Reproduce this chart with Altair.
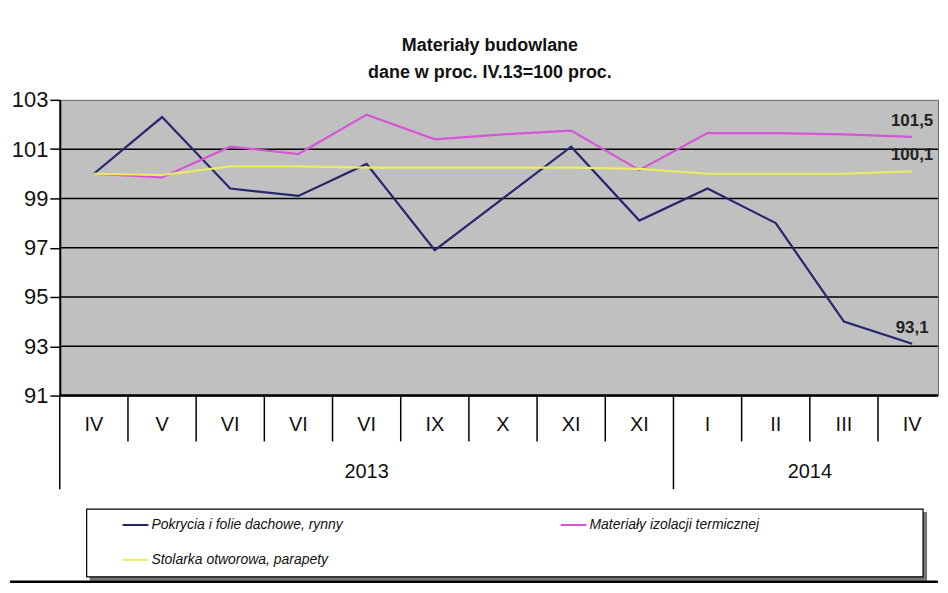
import altair as alt
import pandas as pd

months = ["IV", "V", "VI", "VI", "VI", "IX", "X", "XI", "XI", "I", "II", "III", "IV"]
years = ["2013", "2014"]
year_first = [0, 9]
year_last = [8, 12]

series_names = [
    "Pokrycia i folie dachowe, rynny",
    "Materiały izolacji termicznej",
    "Stolarka otworowa, parapety",
]
series_colors = ["#26266e", "#d655d6", "#ecec62"]
pokrycia = [100.0, 102.3, 99.4, 99.1, 100.4, 96.9, 99.0, 101.1, 98.1, 99.4, 98.0, 94.0, 93.1]
izolacja = [100.0, 99.85, 101.1, 100.8, 102.4, 101.4, 101.6, 101.75, 100.15, 101.65, 101.65, 101.6, 101.5]
stolarka = [100.0, 99.95, 100.3, 100.3, 100.25, 100.25, 100.25, 100.25, 100.2, 100.0, 100.0, 100.0, 100.1]
y_ticks = [91, 93, 95, 97, 99, 101, 103]
grid_values = [93, 95, 97, 99, 101]

W, H = 882, 297
X_DOMAIN = [-0.5, 12.38]
Y_DOMAIN = [91, 103]
FONT = "Liberation Sans, Arial, sans-serif"

# legend order (column-major fill in the legend grid): col 1 = first two, col 2 = third
legend_order = [series_names[0], series_names[2], series_names[1]]
legend_colors = [series_colors[0], series_colors[2], series_colors[1]]

rows = []
for name, vals in zip(series_names, [pokrycia, izolacja, stolarka]):
    for i, v in enumerate(vals):
        rows.append({"series": name, "i": i, "v": v})
df = pd.DataFrame(rows)

last = df[df["i"] == len(months) - 1].copy()
last["label"] = last["v"].map(lambda v: f"{v:.1f}".replace(".", ","))

xs = alt.Scale(domain=X_DOMAIN, nice=False, zero=False)
ys = alt.Scale(domain=Y_DOMAIN, nice=False, zero=False)

y_axis = alt.Axis(
    values=y_ticks, title=None, grid=False, labelFontSize=22, labelFont=FONT,
    labelColor="#111", tickColor="black", tickSize=10, tickWidth=1.5, domainColor="black",
    domainWidth=2, labelPadding=2, minExtent=50, maxExtent=50)

grid = alt.Chart(pd.DataFrame({"g": grid_values})).mark_rule(color="black", strokeWidth=1.5).encode(
    y=alt.Y("g:Q", scale=ys, axis=y_axis)
)

lines = alt.Chart(df).mark_line(strokeWidth=2.2).encode(
    x=alt.X("i:Q", scale=xs, axis=None),
    y=alt.Y("v:Q", scale=ys, axis=y_axis),
    color=alt.Color("series:N", scale=alt.Scale(domain=legend_order, range=legend_colors),
                    legend=alt.Legend(orient="none", legendX=62, legendY=413, columns=2,
                                      columnPadding=214, rowPadding=14, symbolType="stroke",
                                      symbolSize=676, symbolStrokeWidth=2, labelFont=FONT,
                                      labelFontSize=14, labelFontStyle="italic", labelColor="#111",
                                      labelOffset=2, labelLimit=0, title=None, padding=0)),
    detail="series:N",
    order="i:Q",
)

end_labels = alt.Chart(last).mark_text(dy=-16, fontSize=17, fontWeight="bold", font=FONT,
                                       color="#222").encode(
    x=alt.X("i:Q", scale=xs), y=alt.Y("v:Q", scale=ys), text="label:N"
)

# x axis: baseline, month separators, labels, year separators
base_line = alt.Chart(pd.DataFrame({"a": [0]})).mark_rule(color="black", strokeWidth=2.5).encode(
    x=alt.value(0), x2=alt.value(W), y=alt.value(H)
)
year_bounds = [f - 0.5 for f in year_first]
month_bounds = [i + 0.5 for i in range(len(months) - 1) if (i + 0.5) not in year_bounds and i + 0.5 < X_DOMAIN[1]]

month_sep = alt.Chart(pd.DataFrame({"b": month_bounds})).mark_rule(color="black", strokeWidth=1.5).encode(
    x=alt.X("b:Q", scale=xs), y=alt.value(H), y2=alt.value(H + 46)
)
year_sep = alt.Chart(pd.DataFrame({"b": year_bounds})).mark_rule(color="black", strokeWidth=1.5).encode(
    x=alt.X("b:Q", scale=xs), y=alt.value(H), y2=alt.value(H + 94)
)
month_text = alt.Chart(pd.DataFrame({"i": list(range(len(months))), "m": months})).mark_text(
    fontSize=20, font=FONT, color="#111", baseline="middle").encode(
    x=alt.X("i:Q", scale=xs), y=alt.value(H + 30), text="m:N"
)
year_text = alt.Chart(pd.DataFrame({"c": [(a + b) / 2 for a, b in zip(year_first, year_last)], "y": years})).mark_text(
    fontSize=20, font=FONT, color="#111", baseline="middle").encode(
    x=alt.X("c:Q", scale=xs), y=alt.value(H + 77), text="y:N"
)

# legend frame
one = pd.DataFrame({"a": [0]})
legend_shadow = alt.Chart(one).mark_rect(fill="#777").encode(
    x=alt.value(30), x2=alt.value(871), y=alt.value(414), y2=alt.value(483)
)
legend_box = alt.Chart(one).mark_rect(fill="white", stroke="black", strokeWidth=1.2).encode(
    x=alt.value(27), x2=alt.value(867), y=alt.value(411), y2=alt.value(479)
)
bottom_line = alt.Chart(one).mark_rule(color="black", strokeWidth=2.5).encode(
    x=alt.value(-50), x2=alt.value(W), y=alt.value(484)
)

chart = alt.layer(
    grid, lines, end_labels, base_line, month_sep, year_sep, month_text, year_text,
    legend_shadow, legend_box, bottom_line
).properties(
    width=W, height=H,
    padding={"left": 0, "top": 28, "right": 0, "bottom": 0},
    title=alt.TitleParams(text=["Materiały budowlane", "dane w proc. IV.13=100 proc."],
                          fontSize=18, font=FONT, fontWeight="bold", anchor="middle",
                          offset=7, lineHeight=27, color="#111", dx=-9),
    background="white",
).configure_view(fill="#c0c0c0", stroke="#666", strokeWidth=1)

chart.save("out.html", embed_options={"renderer": "svg", "actions": False})
